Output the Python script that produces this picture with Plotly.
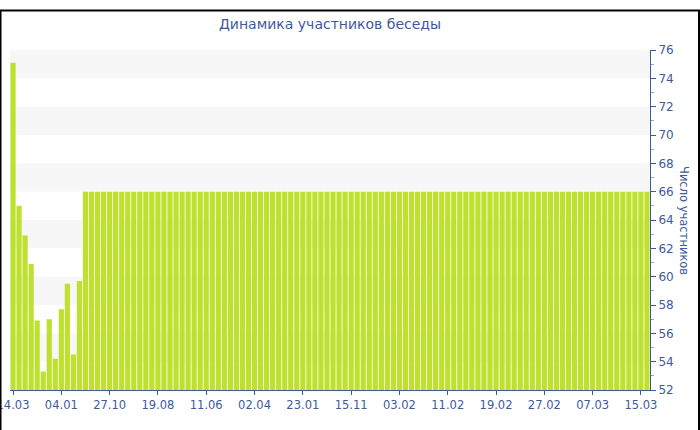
import plotly.graph_objects as go

# число участников по дням (первые 12 значений разные, дальше 66)
members = [75.1, 65.0, 62.9, 60.9, 56.9, 53.3, 57.0, 54.2, 57.7, 59.5, 54.5, 59.7] + [66] * 94
tick_labels = ["14.03", "04.01", "27.10", "19.08", "11.06", "02.04", "23.01",
               "15.11", "03.02", "11.02", "19.02", "27.02", "07.03", "15.03"]
band_lows = [54, 58, 62, 66, 70, 74]

blue = "#3d5a9f"
W, H = 700, 430
ml, mr, mt, mb = 10, 50, 50, 40

x = list(range(len(members)))
tickvals = x[::8][:len(tick_labels)]

fig = go.Figure()
fig.add_trace(go.Bar(x=x, y=members, marker_color="#bde12e", marker_line_width=0, showlegend=False))

shapes = []
for lo in band_lows:
    shapes.append(dict(type="rect", xref="paper", yref="y", x0=0, x1=1, y0=lo, y1=lo + 2,
                       fillcolor="#f7f7f7", line_width=0, layer="below"))

# рамка вокруг всей картинки
pw, ph = W - ml - mr, H - mt - mb
shapes.append(dict(type="rect", xref="paper", yref="paper",
                   x0=(0.5 - ml) / pw, x1=(W - 1 - ml) / pw,
                   y0=(H - mt - (H - 1)) / ph, y1=(H - mt - 0.5) / ph,
                   line=dict(color="black", width=2), fillcolor="rgba(0,0,0,0)"))

fig.update_layout(
    width=W, height=H,
    margin=dict(l=ml, r=mr, t=mt, b=mb, autoexpand=False),
    paper_bgcolor="white", plot_bgcolor="white",
    bargap=0.14,
    font=dict(family="DejaVu Sans, Verdana, sans-serif", color=blue, size=11),
    title=dict(text="Динамика участников беседы", x=0.5, xref="paper", y=0.945, yanchor="middle",
               font=dict(size=14, color=blue)),
    shapes=shapes,
    annotations=[dict(text="Число участников", xref="paper", yref="paper", x=(684 - ml) / pw, y=0.5,
                      xanchor="center", yanchor="middle",
                      textangle=90, showarrow=False, font=dict(size=11.5, color=blue))],
)
fig.update_xaxes(range=[-0.5, len(members) - 0.5], tickvals=tickvals, ticktext=tick_labels,
                 showline=True, linecolor=blue, linewidth=1, ticks="outside", ticklen=4,
                 tickcolor=blue, showgrid=False, zeroline=False, tickfont=dict(size=11.5),
                 ticklabeloverflow="allow", automargin=False)
fig.update_yaxes(side="right", range=[52, 76], dtick=2, showline=True, linecolor=blue, linewidth=1,
                 ticks="outside", ticklen=5, tickcolor=blue, showgrid=False, zeroline=False,
                 minor=dict(dtick=1, ticks="outside", ticklen=3, tickcolor="#9aa8c8"),
                 tickfont=dict(size=12), automargin=False)

fig.write_html("out.html", config={"displayModeBar": False},
               post_script="document.body.style.margin='0';")
